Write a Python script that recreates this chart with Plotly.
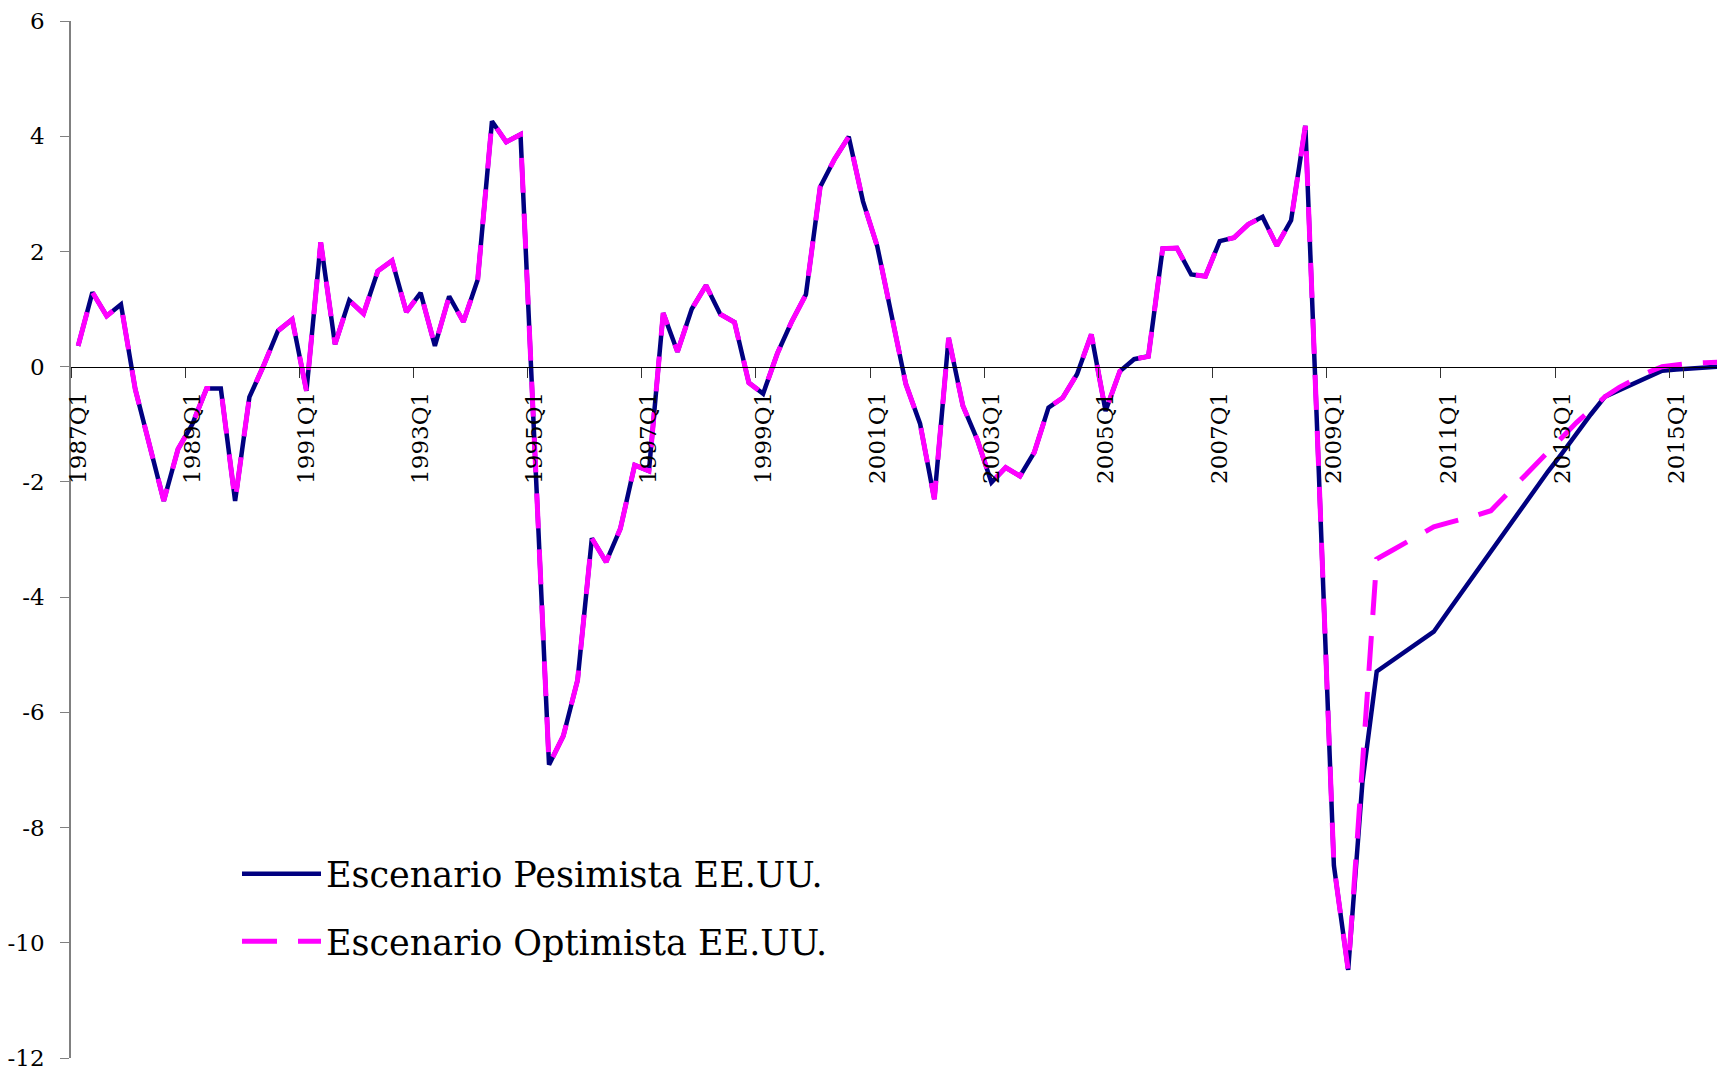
import plotly.graph_objects as go

# ---------------- data ----------------
years = list(range(1987, 2016))
quarters = [f"{y}Q{q}" for y in years for q in range(1, 5)]  # 1987Q1 .. 2015Q4

# common history 1987Q1 .. 2009Q2 (identical for both scenarios)
historia = [
    0.36, 1.29, 0.88, 1.08, -0.39, -1.35, -2.33, -1.43,      # 1987-1988
    -1.00, -0.38, -0.38, -2.33, -0.53, 0.02, 0.62, 0.82,     # 1989-1990
    -0.42, 2.16, 0.39, 1.15, 0.92, 1.66, 1.84, 0.95,         # 1991-1992
    1.28, 0.36, 1.22, 0.78, 1.51, 4.26, 3.90, 4.03,          # 1993-1994
    -1.30, -6.91, -6.41, -5.44, -2.98, -3.39, -2.81, -1.71,  # 1995-1996
    -1.81, 0.93, 0.26, 1.00, 1.41, 0.91, 0.77, -0.28,        # 1997-1998
    -0.47, 0.23, 0.78, 1.25, 3.12, 3.60, 3.99, 2.87,         # 1999-2000
    2.09, 0.85, -0.30, -0.99, -2.30, 0.50, -0.68, -1.26,     # 2001-2002
    -2.01, -1.75, -1.90, -1.49, -0.71, -0.54, -0.13, 0.56,   # 2003-2004
    -0.77, -0.08, 0.13, 0.18, 2.05, 2.06, 1.60, 1.57,        # 2005-2006
    2.18, 2.24, 2.47, 2.60, 2.10, 2.54, 4.18, -2.20,         # 2007-2008
    -8.66, -10.47,                                           # 2009Q1-Q2
]

# scenario paths 2009Q3 .. 2015Q4
proy_pesimista = [
    -7.21, -5.29, -5.12, -4.95, -4.78, -4.60, -4.25, -3.90,
    -3.55, -3.20, -2.85, -2.50, -2.16, -1.82, -1.50, -1.15,
    -0.83, -0.52, -0.41, -0.30, -0.18, -0.07, -0.05, -0.03,
    -0.02, 0.00,
]
proy_optimista = [
    -6.85, -3.34, -3.20, -3.06, -2.92, -2.78, -2.71, -2.65,
    -2.58, -2.50, -2.24, -1.98, -1.72, -1.46, -1.20, -0.97,
    -0.75, -0.52, -0.36, -0.22, -0.10, 0.00, 0.04, 0.06,
    0.07, 0.08,
]

pesimista = historia + proy_pesimista
optimista = historia + proy_optimista

tick_labels = quarters[::8]
y_ticks = list(range(-12, 7, 2))
y_ticktext = [str(v) for v in y_ticks]

# ---------------- figure ----------------
FONT = "DejaVu Serif"
W, H = 1717, 1071
ML, MR, MT, MB = 71, 0, 21, 11
Y_MIN, Y_MAX = -12, 6

fig = go.Figure()
fig.add_trace(go.Scatter(
    x=quarters, y=pesimista, mode="lines",
    name="Escenario Pesimista EE.UU.",
    line=dict(color="#000080", width=4.5),
    legendgroup="a",
))
fig.add_trace(go.Scatter(
    x=quarters, y=optimista, mode="lines",
    name="Escenario Optimista EE.UU.",
    line=dict(color="#FF00FF", width=5, dash="35px,21px"),
    legendgroup="b",
))

plot_w = W - ML - MR
right_edge = plot_w / 14.27 - 0.5

fig.update_layout(
    width=W, height=H,
    margin=dict(l=ML, r=MR, t=MT, b=MB, pad=0),
    paper_bgcolor="white", plot_bgcolor="white",
    font=dict(family=FONT, color="black", size=23),
    showlegend=True,
    legend=dict(
        x=(237 - ML) / plot_w, y=(H - MB - 846) / (H - MT - MB),
        xanchor="left", yanchor="top",
        font=dict(family=FONT, size=35, color="black"),
        bgcolor="rgba(0,0,0,0)", borderwidth=0,
        itemwidth=79, traceorder="grouped", tracegroupgap=19,
    ),
    xaxis=dict(
        type="category",
        categoryorder="array", categoryarray=quarters,
        range=[-0.5, right_edge],
        anchor="free", position=(0 - Y_MIN) / (Y_MAX - Y_MIN),
        showline=True, linecolor="black", linewidth=1,
        showgrid=False, zeroline=False,
        tickmode="array", tickvals=tick_labels, ticktext=tick_labels,
        tickson="boundaries",
        ticks="outside", ticklen=10, tickwidth=1, tickcolor="#333333",
        tickangle=-90, ticklabelstandoff=15,
        tickfont=dict(family=FONT, size=23, color="black"),
    ),
    yaxis=dict(
        range=[Y_MIN, Y_MAX],
        tickmode="array", tickvals=y_ticks, ticktext=y_ticktext,
        showline=True, linecolor="#808080", linewidth=1.5,
        ticks="outside", ticklen=9, tickwidth=1, tickcolor="#808080",
        showgrid=False, zeroline=False,
        ticklabelstandoff=11, ticklabeloverflow="allow",
        tickfont=dict(family=FONT, size=23, color="black"),
    ),
)

fig.write_html(
    "out.html",
    config={"displayModeBar": False},
    post_script="document.body.style.margin='0';document.body.style.overflow='hidden';",
)
